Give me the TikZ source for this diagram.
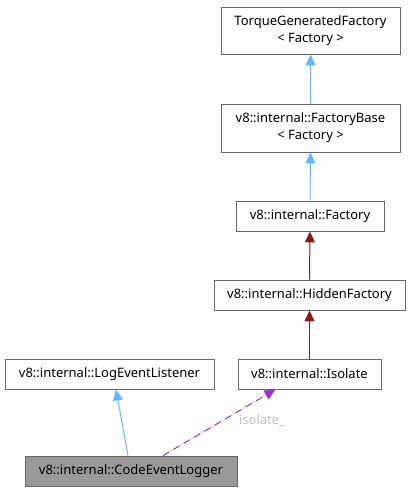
\documentclass[tikz,border=0pt]{standalone}
\usepackage{fontspec}
\setmainfont{Noto Sans}
\usetikzlibrary{arrows.meta}
\definecolor{edgeblue}{HTML}{63B8FF}
\definecolor{edgered}{HTML}{8B1A1A}
\definecolor{edgepurple}{HTML}{9A32CD}
\definecolor{boxline}{HTML}{666666}
\definecolor{labelgray}{HTML}{BFBFBF}
\begin{document}
\begin{tikzpicture}[x=1bp,y=-1bp,
  cls/.style={draw=boxline,line width=0.9bp,fill=white,inner sep=0pt,font=\fontsize{13bp}{17bp}\selectfont,align=center,text=black},
  inh/.style={-{Triangle[length=11bp,width=10bp]},line width=1bp},
  usage/.style={-{Triangle[length=11bp,width=10bp]},line width=1bp,dash pattern=on 7bp off 5bp,draw=edgepurple,fill=edgepurple}]
\useasboundingbox (0,0) rectangle (411,491);
\node[cls,minimum width=179bp,minimum height=47bp] (tgf) at (310.5,30.5) {TorqueGeneratedFactory\\\textless{} Factory \textgreater};
\node[cls,minimum width=179bp,minimum height=48bp] (fb) at (310.5,128) {v8::internal::FactoryBase\\\textless{} Factory \textgreater};
\node[cls,minimum width=148bp,minimum height=30bp] (fac) at (310,216) {v8::internal::Factory};
\node[cls,minimum width=191bp,minimum height=30bp] (hf) at (309.5,295) {v8::internal::HiddenFactory};
\node[cls,minimum width=143bp,minimum height=30bp] (iso) at (309.5,374) {v8::internal::Isolate};
\node[cls,minimum width=209bp,minimum height=30bp] (lel) at (109.5,374) {v8::internal::LogEventListener};
\node[cls,minimum width=212bp,minimum height=30bp,fill=black!40] (cel) at (131,471) {v8::internal::CodeEventLogger};
\draw[inh,draw=edgeblue,fill=edgeblue] (fb.north) -- (tgf.south);
\draw[inh,draw=edgeblue,fill=edgeblue] (fac.north) -- (fb.south);
\draw[inh,draw=edgered,fill=edgered] (hf.north) -- (fac.south);
\draw[inh,draw=edgered,fill=edgered] (iso.north) -- (hf.south);
\draw[inh,draw=edgeblue,fill=edgeblue] ([xshift=-3bp]cel.north) -- ([xshift=6.5bp]lel.south);
\draw[usage] ([xshift=32bp]cel.north) -- ([xshift=-34bp]iso.south);
\node[text=labelgray,font=\fontsize{13bp}{15bp}\selectfont,inner sep=0pt] (lbl) at (262,421) {isolate\_};
\end{tikzpicture}
\end{document}
